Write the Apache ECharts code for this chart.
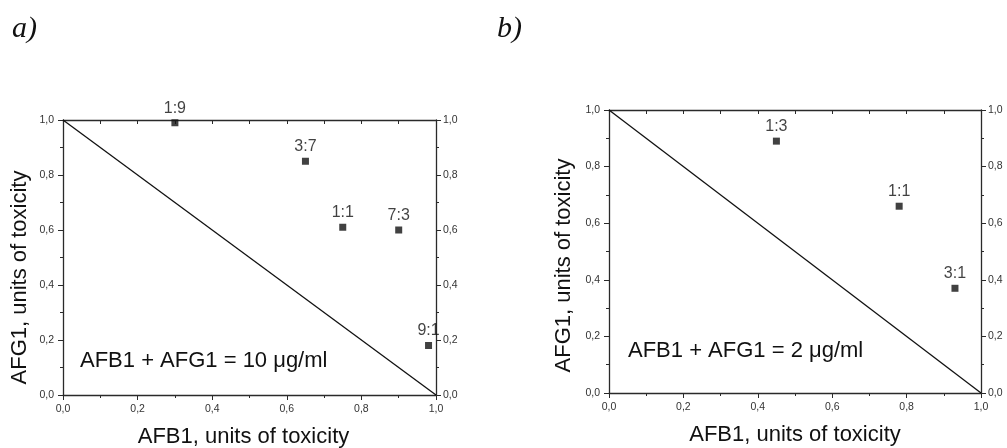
<!DOCTYPE html>
<html><head><meta charset="utf-8">
<script src="https://cdn.jsdelivr.net/npm/echarts@6/dist/echarts.min.js"></script>
<style>html,body{margin:0;padding:0;background:#fff}#c{width:1007px;height:448px}</style>
</head><body><div id="c"></div>
<script>
// Panel a) AFB1 + AFG1 = 10 µg/ml
const aRatios = ['1:9', '3:7', '1:1', '7:3', '9:1'];
const aAFB1 = [0.30, 0.65, 0.75, 0.90, 0.98];
const aAFG1 = [0.99, 0.85, 0.61, 0.60, 0.18];
// Panel b) AFB1 + AFG1 = 2 µg/ml
const bRatios = ['1:3', '1:1', '3:1'];
const bAFB1 = [0.45, 0.78, 0.93];
const bAFG1 = [0.89, 0.66, 0.37];
// Additivity line
const lineX = [0, 1];
const lineY = [1, 0];
const tickLabels = ['0,0', '0,2', '0,4', '0,6', '0,8', '1,0'];
const xName = 'AFB1, units of toxicity';
const yName = 'AFG1, units of toxicity';

const chart = echarts.init(document.getElementById('c'));
const AX = '#2a2a2a';
const fmt = v => tickLabels[Math.round(v * 5)] ?? '';
const lbl = (m) => ({ formatter: fmt, fontSize: 10.5, color: '#333', margin: m, fontFamily: 'Liberation Sans' });

function axes(g, isX, nameGap, namePad) {
  const base = { gridIndex: g, type: 'value', min: 0, max: 1, splitLine: { show: false },
    axisLine: { onZero: false, lineStyle: { color: AX, width: 1.3 } } };
  const tick = { inside: false, length: 5, lineStyle: { color: AX, width: 1 } };
  const minor = { show: true, splitNumber: 2, length: 3, lineStyle: { color: AX, width: 1 } };
  const nameStyle = { fontSize: 22, color: '#111', fontFamily: 'Liberation Sans', padding: namePad };
  const list = [];
  if (isX) {
    list.push(Object.assign({}, base, { position: 'bottom', interval: 0.2,
      name: xName, nameLocation: 'middle', nameGap: nameGap, nameTextStyle: nameStyle,
      axisTick: tick, minorTick: minor, axisLabel: lbl(9) }));
    list.push(Object.assign({}, base, { position: 'top', interval: 0.1,
      axisTick: { inside: true, length: 4, lineStyle: { color: AX } }, axisLabel: { show: false } }));
  } else {
    list.push(Object.assign({}, base, { position: 'left', interval: 0.2,
      name: yName, nameLocation: 'middle', nameGap: nameGap, nameTextStyle: nameStyle,
      axisTick: tick, minorTick: minor, axisLabel: lbl(9) }));
    list.push(Object.assign({}, base, { position: 'right', interval: 0.2,
      axisTick: tick, minorTick: minor, axisLabel: lbl(7) }));
  }
  return list;
}

function pts(xs, ys, names) { return xs.map((x, i) => ({ name: names[i], value: [x, ys[i]] })); }

const xAxes = [...axes(0, true, 31, [0, 12, 0, 0]), ...axes(1, true, 31, 0)];
const yAxes = [...axes(0, false, 32, [0, 40, 0, 0]), ...axes(1, false, 34, [0, 28, 0, 0])];

function scatter(xi, yi, data) {
  return { type: 'scatter', xAxisIndex: xi, yAxisIndex: yi, data: data,
    symbol: 'rect', symbolSize: 7, itemStyle: { color: '#111' }, silent: true,
    label: { show: true, position: 'top', distance: 3, formatter: p => p.name,
      fontSize: 16, color: '#111', fontFamily: 'Liberation Sans' }, z: 5 };
}
function diag(xi, yi) {
  return { type: 'line', xAxisIndex: xi, yAxisIndex: yi, data: lineX.map((x, i) => [x, lineY[i]]),
    symbol: 'none', lineStyle: { color: '#111', width: 1.3 }, silent: true, z: 3 };
}

chart.setOption({
  animation: false,
  backgroundColor: '#fff',
  grid: [
    { left: 63, right: 571, top: 120, bottom: 53, outerBoundsMode: 'none', containLabel: false },
    { left: 609, right: 26, top: 110, bottom: 55, outerBoundsMode: 'none', containLabel: false }
  ],
  xAxis: xAxes,
  yAxis: yAxes,
  series: [
    diag(0, 0), scatter(0, 0, pts(aAFB1, aAFG1, aRatios)),
    diag(2, 2), scatter(2, 2, pts(bAFB1, bAFG1, bRatios))
  ],
  graphic: [
    { type: 'text', left: 12, top: 14, style: { text: 'a)', font: 'italic 30px "Liberation Serif"', fill: '#111' } },
    { type: 'text', left: 497, top: 14, style: { text: 'b)', font: 'italic 30px "Liberation Serif"', fill: '#111' } },
    { type: 'text', left: 80, top: 350, style: { text: 'AFB1 + AFG1 = 10 \u03bcg/ml', font: '22px "Liberation Sans"', fill: '#111' } },
    { type: 'text', left: 628, top: 340, style: { text: 'AFB1 + AFG1 = 2 \u03bcg/ml', font: '22px "Liberation Sans"', fill: '#111' } }
  ]
});
</script></body></html>
